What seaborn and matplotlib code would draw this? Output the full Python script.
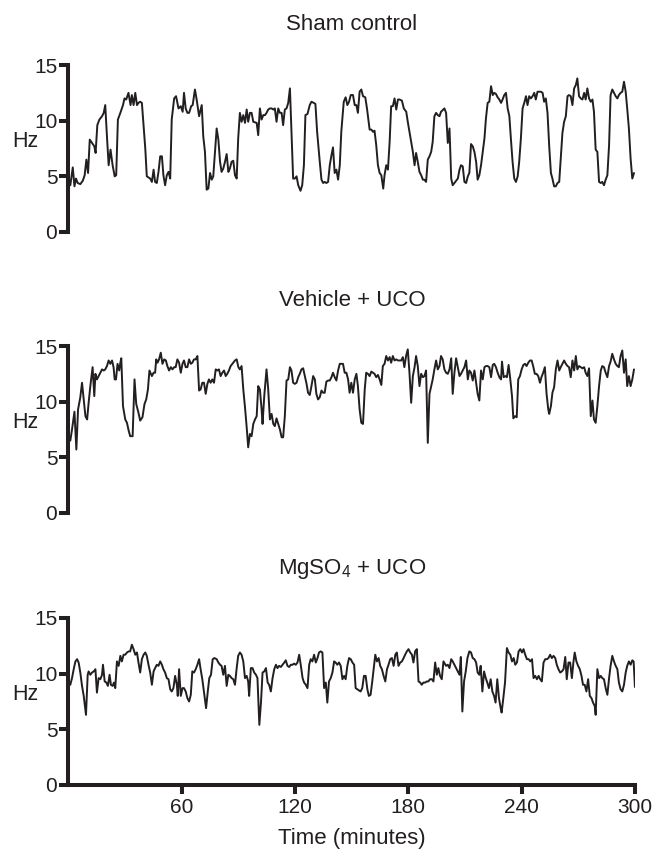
import matplotlib
matplotlib.use("Agg")
import matplotlib.pyplot as plt
import pandas as pd
import seaborn as sns

# values (minutes, Hz)
sham_min = [1.0, 2.3, 3.2, 4.0, 4.9, 6.3, 7.6, 8.6, 9.5, 10.4, 11.3, 12.5, 13.7, 14.4, 15.3, 16.4, 17.8, 18.7, 19.5, 20.4,
            21.3, 22.3, 23.4, 24.5, 25.3, 26.2, 27.5, 28.9, 29.7, 30.6, 31.8, 32.9, 33.6, 34.5, 35.4, 36.3, 37.1, 38.0, 38.9, 39.8,
            40.7, 41.5, 43.3, 44.2, 45.1, 45.9, 46.8, 47.7, 48.6, 49.5, 50.3, 51.2, 52.1, 53.0, 53.9, 54.7, 56.0, 57.0, 58.3, 59.5,
            60.5, 61.2, 62.1, 63.0, 63.9, 65.0, 65.8, 67.0, 67.9, 69.2, 70.6, 71.4, 72.3, 73.2, 74.1, 75.0, 75.9, 76.7, 77.6, 78.5,
            79.4, 80.3, 81.1, 82.0, 82.9, 83.8, 84.7, 85.5, 86.4, 87.3, 88.2, 89.1, 89.9, 90.8, 91.7, 92.6, 93.5, 94.4, 95.2, 96.1,
            97.0, 97.9, 99.7, 100.5, 101.4, 102.3, 103.2, 104.1, 104.9, 105.8, 106.7, 107.6, 108.5, 109.3, 110.2, 111.1, 112.0, 112.9, 113.7, 114.6,
            115.5, 116.4, 117.3, 118.1, 119.0, 119.9, 120.8, 121.7, 122.9, 123.8, 124.7, 125.5, 126.6, 127.8, 128.7, 129.9, 130.8, 131.7, 133.1, 134.0,
            134.9, 135.7, 136.6, 137.5, 138.4, 139.3, 140.1, 141.0, 141.9, 142.8, 143.7, 144.5, 145.8, 146.8, 147.7, 148.6, 149.5, 150.7, 151.6, 152.5,
            153.3, 154.2, 155.1, 156.0, 157.2, 158.1, 159.5, 160.4, 161.3, 162.1, 163.0, 163.9, 164.8, 165.7, 166.7, 167.4, 168.3, 169.2, 170.1, 170.9,
            171.8, 172.7, 173.6, 174.5, 175.3, 176.6, 177.6, 178.9, 179.7, 180.6, 181.5, 182.4, 183.3, 184.1, 185.0, 185.9, 186.8, 187.7, 188.5, 189.4,
            190.3, 191.2, 192.1, 192.9, 193.8, 194.7, 195.6, 196.5, 197.3, 199.1, 200.0, 200.9, 201.8, 202.7, 203.5, 204.4, 205.3, 206.2, 207.1, 207.9,
            208.8, 209.7, 210.6, 211.5, 212.3, 213.2, 214.1, 215.0, 215.9, 216.7, 217.6, 218.5, 219.4, 220.3, 221.1, 222.0, 222.9, 223.8, 224.7, 225.5,
            226.4, 227.3, 228.2, 229.1, 229.9, 230.8, 231.7, 232.6, 233.5, 234.3, 235.2, 236.1, 237.0, 237.9, 238.7, 239.6, 240.5, 241.4, 242.3, 243.1,
            244.0, 244.9, 245.8, 246.7, 247.5, 248.4, 249.3, 250.2, 251.1, 251.9, 252.8, 253.7, 254.6, 255.5, 256.3, 257.2, 258.1, 259.0, 259.9, 260.7,
            261.6, 262.5, 263.4, 264.3, 265.1, 266.0, 266.9, 267.8, 268.7, 269.5, 270.4, 271.3, 272.2, 273.1, 273.9, 274.8, 275.7, 276.6, 277.5, 278.3,
            279.2, 280.1, 281.0, 281.9, 282.7, 283.6, 284.5, 285.4, 286.3, 287.1, 288.0, 288.9, 289.8, 290.7, 291.5, 292.4, 293.3, 294.2, 295.1, 295.9,
            296.8, 297.7, 298.6, 299.5]
sham_hz = [4.2, 5.8, 4.1, 4.8, 4.4, 4.3, 4.6, 5.1, 6.5, 5.3, 8.3, 8.0, 7.7, 7.1, 9.6, 10.1, 10.4, 10.7, 11.4, 8.6,
           6.0, 7.4, 6.0, 5.0, 5.1, 10.1, 10.7, 11.4, 12.0, 11.9, 12.5, 11.4, 12.3, 11.4, 12.5, 11.4, 11.6, 11.7, 11.6, 9.5,
           7.5, 5.0, 4.8, 4.5, 5.6, 4.5, 4.4, 5.4, 6.8, 6.8, 5.1, 4.2, 5.1, 5.4, 4.8, 10.1, 12.0, 12.2, 11.1, 11.3,
           10.8, 12.5, 11.1, 10.7, 10.7, 11.3, 11.4, 12.8, 11.9, 10.4, 11.4, 8.6, 7.2, 3.8, 3.9, 5.3, 4.7, 5.0, 7.2, 9.3,
           8.3, 6.3, 5.4, 5.7, 6.3, 7.0, 5.4, 5.7, 6.3, 6.4, 5.1, 4.8, 8.4, 10.7, 9.9, 10.5, 9.8, 11.0, 9.9, 10.7,
           10.7, 9.9, 9.8, 8.7, 11.1, 10.1, 10.5, 10.5, 10.7, 11.0, 11.1, 11.1, 11.0, 11.1, 9.9, 11.1, 10.7, 10.7, 9.6, 11.0,
           11.1, 11.6, 12.9, 9.0, 4.8, 4.8, 5.0, 4.2, 3.7, 4.2, 6.0, 10.5, 10.6, 11.4, 11.7, 11.6, 11.5, 9.0, 6.3, 4.7,
           4.4, 4.5, 4.4, 4.5, 6.0, 6.9, 7.6, 5.3, 5.6, 4.7, 6.0, 9.0, 11.7, 12.1, 11.4, 11.7, 12.3, 12.3, 11.4, 11.4,
           10.7, 12.6, 12.8, 12.2, 12.1, 11.1, 9.2, 9.2, 9.0, 9.1, 7.8, 6.0, 5.3, 5.1, 3.9, 5.1, 6.0, 5.6, 8.1, 11.3,
           11.3, 12.0, 11.0, 11.9, 11.9, 11.8, 11.1, 10.8, 9.9, 9.0, 8.1, 7.2, 6.0, 7.1, 6.3, 5.4, 5.1, 4.7, 4.7, 4.5,
           6.5, 6.8, 7.2, 8.1, 10.4, 10.7, 10.5, 10.4, 10.8, 11.1, 10.7, 8.0, 9.3, 4.8, 4.2, 4.4, 4.6, 4.8, 5.6, 6.0,
           5.9, 4.5, 4.4, 5.0, 5.3, 7.9, 7.7, 7.2, 6.3, 4.7, 5.1, 6.0, 7.2, 8.4, 10.2, 11.6, 11.7, 13.1, 12.3, 12.5,
           12.4, 12.1, 11.9, 11.6, 11.9, 12.3, 12.5, 11.1, 10.4, 8.4, 6.3, 4.8, 4.5, 5.0, 6.3, 8.4, 11.1, 11.6, 12.2, 11.4,
           12.2, 12.0, 12.2, 12.5, 11.9, 12.6, 12.6, 12.6, 12.5, 11.7, 12.0, 10.7, 7.7, 5.3, 4.8, 4.1, 4.1, 4.4, 4.5, 6.6,
           8.9, 9.9, 10.4, 12.2, 12.3, 12.2, 11.4, 12.9, 13.2, 13.8, 12.2, 12.0, 11.9, 12.5, 11.9, 12.9, 12.0, 11.7, 11.9, 10.8,
           7.4, 7.2, 4.5, 4.4, 4.5, 4.2, 4.7, 5.1, 7.8, 12.3, 12.8, 12.5, 12.2, 12.0, 12.3, 12.5, 12.6, 13.5, 12.6, 11.1,
           9.3, 6.6, 4.8, 5.3]

vehicle_min = [1.0, 1.9, 3.2, 4.2, 5.1, 6.3, 7.2, 8.1, 9.0, 9.9, 10.7, 11.6, 12.8, 13.7, 14.3, 15.1, 16.0, 16.9, 17.8, 18.7,
               19.5, 20.4, 21.3, 22.2, 23.1, 23.9, 24.5, 25.2, 26.0, 26.9, 27.5, 28.0, 28.9, 30.1, 31.0, 31.9, 32.7, 34.0, 35.0, 35.9,
               37.1, 38.0, 39.2, 40.3, 41.2, 42.1, 42.9, 44.2, 45.1, 45.9, 46.5, 47.2, 48.0, 48.9, 49.8, 50.7, 51.6, 52.4, 53.3, 54.2,
               55.1, 56.0, 56.8, 57.7, 58.6, 59.5, 60.4, 61.2, 62.1, 63.0, 63.9, 64.8, 65.6, 66.5, 67.4, 68.3, 69.2, 70.0, 70.9, 71.8,
               72.7, 73.6, 74.4, 75.3, 76.2, 77.1, 78.0, 78.9, 79.7, 80.6, 81.5, 82.4, 83.3, 84.1, 85.0, 85.9, 86.8, 88.2, 89.1, 90.0,
               90.8, 91.7, 92.6, 93.5, 94.4, 95.2, 96.1, 97.0, 97.9, 98.8, 99.7, 100.5, 101.4, 102.3, 102.8, 103.7, 104.9, 105.8, 106.7, 107.6,
               108.5, 109.3, 110.2, 111.1, 112.0, 112.9, 113.7, 114.6, 115.5, 116.4, 117.3, 118.1, 119.0, 119.9, 120.8, 121.7, 122.5, 123.4, 124.3, 125.2,
               126.1, 126.9, 127.8, 128.7, 129.6, 130.5, 131.3, 132.2, 133.1, 134.0, 134.9, 135.7, 136.6, 137.5, 138.4, 139.3, 140.1, 141.0, 141.9, 142.8,
               143.7, 144.5, 145.4, 146.3, 147.2, 148.1, 148.9, 149.8, 150.7, 151.6, 152.5, 153.3, 154.2, 155.1, 156.0, 156.9, 157.7, 158.6, 159.5, 160.4,
               161.3, 162.1, 163.0, 163.9, 164.8, 165.7, 166.5, 167.4, 168.3, 169.2, 170.1, 170.9, 171.8, 172.7, 173.6, 174.5, 175.3, 176.2, 177.1, 177.9,
               178.8, 179.7, 180.6, 181.5, 182.4, 183.3, 184.1, 185.0, 185.9, 186.8, 187.7, 188.5, 189.4, 190.3, 191.2, 192.1, 192.9, 193.8, 194.7, 195.6,
               196.5, 197.3, 198.2, 199.1, 200.0, 200.9, 201.8, 202.7, 203.5, 204.4, 205.3, 206.2, 207.1, 207.9, 208.8, 209.7, 210.6, 211.5, 212.3, 213.2,
               214.1, 215.0, 215.9, 216.7, 217.6, 218.5, 219.4, 220.3, 221.1, 222.0, 222.9, 223.8, 224.7, 225.5, 226.4, 227.3, 228.2, 229.1, 229.6, 230.5,
               231.4, 232.2, 233.1, 234.0, 234.9, 235.6, 236.5, 237.4, 238.2, 239.1, 240.0, 240.9, 241.8, 242.6, 243.5, 244.4, 245.3, 246.1, 247.0, 247.9,
               248.8, 249.7, 250.5, 251.4, 252.3, 253.2, 254.1, 254.6, 255.5, 256.3, 257.2, 258.1, 259.0, 259.9, 260.7, 261.6, 262.5, 263.4, 264.3, 265.1,
               266.0, 266.9, 267.8, 268.7, 269.5, 270.4, 271.3, 272.2, 273.1, 273.9, 274.8, 275.7, 276.6, 277.5, 278.3, 279.2, 280.1, 281.0, 281.9, 282.7,
               283.6, 284.5, 285.4, 286.3, 287.1, 288.0, 288.9, 289.8, 290.7, 291.5, 292.4, 293.3, 294.2, 295.1, 295.9, 296.8, 297.7, 298.6, 299.5]
vehicle_hz = [6.5, 7.5, 9.1, 5.7, 9.3, 10.4, 11.7, 10.2, 8.7, 8.4, 9.9, 11.4, 13.1, 10.5, 12.5, 12.0, 12.3, 12.6, 12.9, 12.8,
              12.9, 13.2, 13.7, 13.4, 13.7, 13.1, 12.0, 12.0, 13.4, 12.8, 13.5, 13.9, 9.6, 8.4, 8.1, 7.4, 6.9, 6.9, 12.0, 9.8,
              9.0, 8.3, 8.6, 9.8, 10.2, 11.1, 12.8, 12.3, 12.6, 12.6, 13.8, 13.5, 13.8, 14.4, 13.4, 13.8, 13.7, 13.2, 12.8, 13.1,
              12.9, 13.1, 13.1, 13.8, 13.5, 12.6, 13.4, 13.7, 13.1, 13.1, 13.8, 13.4, 13.5, 13.8, 13.8, 14.1, 11.0, 11.1, 11.7, 11.7,
              10.7, 11.6, 12.0, 11.7, 12.0, 11.7, 12.9, 12.8, 12.9, 12.3, 12.6, 12.8, 12.3, 12.5, 12.8, 13.2, 13.4, 13.7, 13.8, 13.1,
              12.9, 13.2, 11.1, 9.5, 7.7, 5.9, 7.1, 6.9, 8.0, 8.4, 8.7, 11.4, 11.1, 9.3, 8.0, 10.5, 12.9, 11.1, 8.4, 8.9,
              8.0, 7.8, 8.5, 8.0, 7.5, 6.8, 6.8, 8.7, 11.9, 12.0, 13.1, 12.8, 11.7, 11.6, 11.7, 12.2, 12.5, 12.9, 13.0, 12.3,
              11.6, 10.8, 10.6, 11.4, 12.3, 12.0, 10.7, 10.2, 10.4, 11.0, 10.8, 10.8, 11.8, 11.9, 11.9, 12.2, 12.6, 12.2, 11.9, 12.8,
              13.4, 13.4, 13.4, 12.6, 12.6, 12.0, 10.8, 11.7, 10.8, 12.0, 12.5, 11.4, 9.3, 8.1, 8.0, 11.1, 12.6, 12.5, 12.3, 12.7,
              12.6, 12.5, 12.2, 12.4, 12.0, 11.5, 13.2, 13.4, 14.1, 13.7, 14.0, 13.5, 14.1, 13.7, 13.8, 13.7, 13.7, 13.7, 14.0, 13.1,
              14.1, 14.7, 12.6, 9.9, 12.3, 13.1, 14.1, 13.2, 11.4, 12.5, 12.2, 12.3, 12.8, 6.3, 10.7, 11.4, 12.0, 12.9, 13.7, 12.9,
              13.2, 14.1, 13.8, 12.9, 12.6, 12.5, 12.9, 13.9, 10.7, 12.6, 13.9, 13.1, 12.3, 12.5, 12.8, 13.1, 13.7, 12.0, 12.8, 12.6,
              11.9, 12.8, 11.7, 10.7, 10.1, 12.8, 12.0, 13.1, 13.2, 13.2, 13.1, 12.2, 13.3, 13.4, 13.1, 12.6, 12.2, 12.0, 13.6, 12.2,
              12.3, 12.2, 13.3, 12.0, 10.5, 8.5, 8.7, 8.6, 12.0, 12.3, 12.9, 13.3, 13.4, 13.2, 13.5, 13.7, 13.7, 13.2, 12.5, 12.5,
              12.3, 11.7, 12.2, 12.6, 13.1, 10.7, 9.3, 8.9, 9.6, 10.8, 11.3, 12.9, 13.7, 12.8, 13.1, 13.4, 13.7, 13.4, 13.2, 13.1,
              12.2, 13.7, 12.8, 14.1, 12.9, 13.2, 13.1, 13.0, 13.1, 12.6, 12.3, 13.0, 8.7, 10.1, 8.4, 8.1, 9.6, 11.4, 12.8, 13.2,
              13.1, 12.6, 12.2, 13.2, 13.6, 14.3, 13.8, 13.4, 13.2, 13.1, 14.1, 14.6, 12.6, 13.8, 11.4, 12.3, 11.4, 12.0, 12.9]

mgso4_min = [1.0, 1.9, 2.8, 3.7, 4.6, 5.4, 6.3, 7.2, 8.1, 9.3, 10.2, 10.7, 11.6, 12.5, 13.4, 14.3, 15.1, 16.0, 16.9, 17.8,
             18.3, 19.2, 20.1, 20.9, 21.8, 22.5, 23.4, 24.1, 24.8, 25.7, 26.6, 27.5, 28.3, 29.2, 30.1, 31.0, 31.9, 32.7, 33.6, 34.5,
             35.4, 36.3, 37.1, 38.0, 38.9, 39.8, 40.7, 41.5, 42.4, 43.3, 44.2, 45.1, 45.9, 46.8, 47.7, 48.6, 49.5, 50.3, 51.2, 52.1,
             53.0, 53.9, 54.7, 55.6, 56.5, 57.4, 57.9, 58.6, 59.5, 60.4, 61.2, 62.1, 63.0, 63.9, 64.8, 65.6, 66.5, 67.4, 68.3, 69.2,
             70.0, 70.9, 71.8, 72.9, 73.8, 74.6, 75.5, 76.4, 77.3, 78.5, 79.4, 80.3, 81.1, 82.0, 82.9, 83.8, 84.7, 85.5, 86.4, 87.3,
             88.2, 89.1, 89.9, 90.8, 91.7, 92.6, 93.5, 94.4, 95.2, 95.7, 96.6, 97.5, 98.4, 99.3, 100.1, 101.1, 102.0, 102.8, 103.7, 104.6,
             105.5, 106.3, 107.2, 108.1, 109.0, 109.9, 110.7, 111.6, 112.5, 113.4, 114.3, 115.1, 116.0, 116.9, 117.8, 118.7, 119.5, 120.4, 121.3, 122.2,
             123.1, 124.0, 124.8, 125.7, 126.6, 127.5, 128.3, 129.2, 130.1, 131.0, 131.9, 132.7, 133.6, 134.5, 135.4, 136.3, 137.1, 138.0, 138.9, 139.8,
             140.7, 141.5, 142.4, 143.3, 144.2, 145.1, 146.0, 146.8, 147.7, 148.6, 149.5, 150.4, 151.3, 152.1, 153.0, 153.9, 154.7, 155.6, 156.5, 157.4,
             158.3, 159.1, 160.0, 160.9, 161.8, 162.5, 163.4, 164.3, 165.1, 166.0, 166.9, 167.8, 168.7, 169.5, 170.4, 171.3, 172.2, 173.1, 173.9, 174.8,
             175.7, 176.6, 177.5, 178.3, 179.2, 180.1, 181.0, 181.9, 182.7, 183.6, 184.5, 185.4, 186.3, 187.1, 188.0, 188.9, 189.8, 190.6, 191.5, 192.4,
             193.3, 194.2, 195.1, 195.9, 196.8, 197.7, 198.6, 200.0, 200.9, 201.8, 202.7, 203.5, 204.4, 205.3, 206.2, 207.1, 207.8, 208.6, 209.5, 210.4,
             211.3, 212.3, 213.2, 214.1, 215.0, 215.9, 216.7, 217.6, 218.3, 219.2, 220.1, 221.0, 221.8, 222.7, 223.6, 224.5, 225.4, 226.2, 227.1, 228.0,
             228.9, 229.4, 230.3, 231.2, 232.2, 233.1, 234.0, 234.9, 235.8, 236.6, 237.5, 238.4, 239.3, 240.2, 241.0, 241.9, 242.8, 243.7, 244.6, 245.5,
             246.3, 247.2, 248.1, 249.0, 249.8, 250.7, 251.6, 252.5, 253.4, 254.2, 255.1, 256.0, 256.9, 257.8, 258.6, 259.5, 260.4, 261.3, 262.2, 263.1,
             263.9, 264.8, 265.7, 266.6, 267.4, 268.1, 269.0, 269.9, 270.8, 271.7, 272.5, 273.4, 274.3, 275.2, 276.1, 277.0, 277.8, 278.7, 279.2, 280.1,
             281.0, 281.9, 282.7, 283.6, 284.5, 285.4, 286.3, 287.1, 288.0, 288.9, 289.8, 290.7, 291.5, 292.4, 293.3, 294.2, 295.1, 295.9, 296.8, 297.7,
             298.6, 299.3, 300.0]
mgso4_hz = [9.0, 9.6, 10.4, 11.1, 11.3, 11.0, 10.1, 8.9, 8.0, 6.3, 9.9, 10.2, 9.9, 10.1, 10.2, 10.4, 8.3, 9.6, 9.5, 9.9,
            10.8, 9.3, 9.2, 8.9, 9.9, 9.0, 8.9, 9.2, 8.7, 11.1, 10.7, 11.6, 11.1, 11.7, 11.7, 11.9, 12.0, 12.0, 12.6, 12.2,
            11.7, 11.9, 11.0, 10.1, 11.3, 11.7, 11.9, 11.6, 10.8, 10.1, 9.0, 10.2, 10.5, 10.8, 10.7, 11.1, 10.8, 10.4, 10.1, 9.6,
            9.5, 8.6, 8.4, 8.7, 9.8, 9.0, 8.0, 10.4, 8.0, 8.7, 8.7, 8.4, 7.8, 7.5, 8.1, 10.2, 10.1, 10.4, 10.8, 11.3,
            10.4, 9.5, 8.3, 6.9, 8.4, 9.6, 9.9, 11.3, 11.4, 11.3, 11.0, 10.8, 10.7, 9.9, 10.7, 8.9, 9.9, 9.8, 9.6, 9.5,
            9.0, 10.5, 11.6, 11.9, 11.7, 11.1, 9.6, 9.8, 9.3, 8.0, 10.5, 10.5, 10.1, 9.9, 9.6, 5.4, 7.5, 10.1, 10.2, 10.5,
            9.2, 9.0, 8.4, 9.6, 10.4, 10.8, 10.5, 10.7, 10.6, 10.8, 11.0, 11.2, 10.7, 10.6, 10.8, 10.8, 10.9, 10.8, 11.0, 11.7,
            10.7, 9.6, 9.2, 9.0, 8.7, 10.8, 11.3, 11.1, 11.7, 11.0, 11.4, 11.9, 12.0, 11.9, 8.7, 9.2, 7.4, 9.3, 9.6, 10.1,
            11.1, 11.0, 10.8, 11.0, 10.7, 9.5, 9.8, 9.5, 10.7, 11.4, 11.3, 11.0, 10.8, 8.7, 8.6, 8.5, 8.4, 8.7, 9.8, 9.8,
            8.6, 8.0, 8.1, 9.3, 10.7, 11.7, 11.1, 11.4, 10.7, 10.4, 9.8, 9.3, 10.4, 10.8, 11.3, 11.4, 10.7, 11.7, 11.9, 10.7,
            11.0, 11.1, 11.4, 11.7, 12.0, 12.2, 11.9, 11.7, 11.0, 12.0, 12.2, 9.3, 9.2, 9.0, 9.2, 9.2, 9.3, 9.3, 9.5, 9.5,
            9.3, 11.0, 9.9, 10.5, 9.8, 9.5, 11.1, 10.7, 10.8, 10.5, 11.3, 11.1, 10.8, 10.5, 10.2, 9.9, 11.5, 6.6, 9.3, 10.2,
            11.4, 12.0, 11.9, 11.4, 11.3, 11.0, 10.1, 9.9, 10.7, 8.4, 10.2, 9.6, 9.2, 8.7, 9.5, 8.4, 8.0, 7.4, 9.5, 7.8,
            6.9, 6.5, 7.8, 9.2, 12.3, 11.9, 11.7, 11.1, 11.4, 10.8, 11.0, 12.0, 12.2, 11.9, 12.2, 11.7, 11.3, 11.3, 11.1, 11.3,
            9.6, 9.8, 9.5, 9.8, 9.5, 9.3, 11.0, 11.3, 11.3, 11.4, 11.7, 11.4, 11.6, 11.4, 10.8, 10.4, 10.1, 10.2, 10.4, 11.5,
            9.5, 11.0, 11.0, 9.6, 11.0, 11.9, 11.1, 10.7, 10.4, 9.8, 9.0, 9.0, 8.4, 9.5, 8.0, 7.8, 7.4, 7.1, 6.3, 10.4,
            9.6, 9.8, 9.6, 9.5, 8.7, 8.1, 9.6, 10.7, 11.6, 11.1, 10.7, 10.4, 9.2, 8.6, 8.4, 9.0, 10.1, 10.7, 11.1, 10.8,
            11.2, 11.1, 8.8]

titles = ["Sham control", "Vehicle + UCO", "MgSO$_4$ + UCO"]
y_ticks = [0, 5, 10, 15]
x_ticks = [60, 120, 180, 240, 300]

sns.set_theme(style="white")
plt.rcParams["font.family"] = ["Liberation Sans", "DejaVu Sans"]
plt.rcParams["mathtext.fontset"] = "custom"
plt.rcParams["mathtext.rm"] = "Liberation Sans"
plt.rcParams["mathtext.it"] = "Liberation Sans"
plt.rcParams["mathtext.default"] = "regular"

ink = "#231f20"
series = [(sham_min, sham_hz), (vehicle_min, vehicle_hz), (mgso4_min, mgso4_hz)]
panel_bottoms = [0.7274, 0.3972, 0.0776]
title_px = [25, 300, 569]

fig = plt.figure(figsize=(6.56, 8.51), dpi=100)
for i, (t, hz) in enumerate(series):
    ax = fig.add_axes([0.1043, panel_bottoms[i], 0.8636, 0.1962])
    df = pd.DataFrame({"minutes": t, "hz": hz})
    sns.lineplot(data=df, x="minutes", y="hz", ax=ax, color=ink, linewidth=1.4, estimator=None)
    ax.set_xlim(0, 300)
    ax.set_ylim(0, 15)
    ax.set_yticks(y_ticks)
    ax.set_yticklabels([str(v) for v in y_ticks])
    for side in ["top", "right"]:
        ax.spines[side].set_visible(False)
    ax.spines["left"].set_linewidth(2.9)
    ax.spines["left"].set_color(ink)
    ax.tick_params(axis="y", direction="out", length=6.5, width=2.9, color=ink,
                   labelsize=15, labelcolor=ink, pad=1.5, left=True)
    ax.set_ylabel("Hz", rotation=0, fontsize=15.5, color=ink, ha="center", va="center")
    ax.yaxis.set_label_coords(-0.076, 0.54)
    if i < 2:
        ax.spines["bottom"].set_visible(False)
        ax.set_xticks([])
        ax.set_xlabel("")
    else:
        ax.spines["bottom"].set_linewidth(2.9)
        ax.spines["bottom"].set_color(ink)
        ax.set_xticks(x_ticks)
        ax.set_xticklabels([str(v) for v in x_ticks])
        ax.tick_params(axis="x", direction="out", length=6.5, width=2.9, color=ink,
                       labelsize=15, labelcolor=ink, pad=3, bottom=True)
        ax.set_xlabel("Time (minutes)", fontsize=16, color=ink, labelpad=8)
    fig.text(0.5366, 1 - title_px[i] / 851, titles[i], ha="center", va="center", fontsize=16, color=ink)

fig.savefig("out.png", dpi=100)
